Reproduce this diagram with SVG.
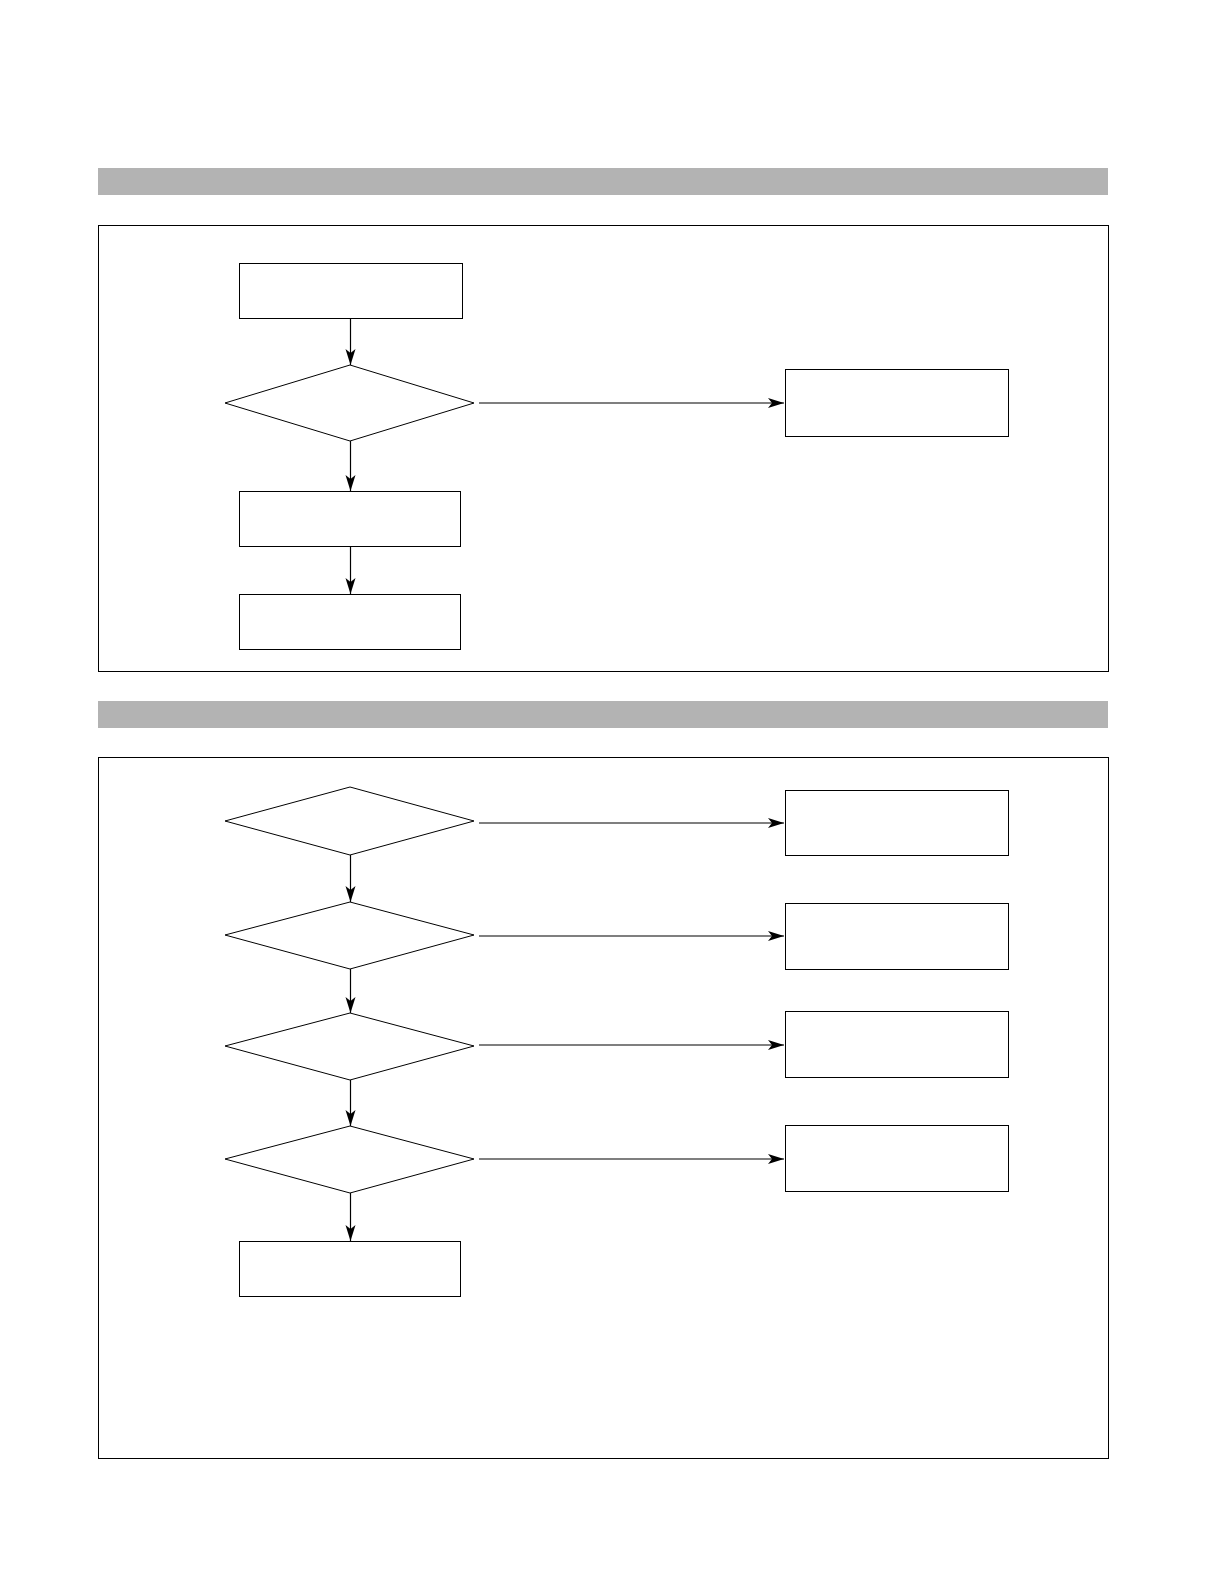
<svg xmlns="http://www.w3.org/2000/svg" width="1224" height="1584" viewBox="0 0 1224 1584">
<style>
.n{fill:#fff;stroke:#000;stroke-width:1}
.b{fill:#b3b3b3}
.f{fill:none;stroke:#000;stroke-width:1}
.c{stroke:#000;stroke-width:1.2;fill:none;marker-end:url(#ah)}
</style>
<defs>
<marker id="ah" markerUnits="userSpaceOnUse" markerWidth="18" markerHeight="12" refX="16" refY="5" orient="auto" viewBox="0 0 18 10">
<path d="M0,0 L16,5 L0,10 L4,5 Z" fill="#000"/>
</marker>
</defs>
<rect width="1224" height="1584" fill="#fff"/>
<rect class="b" x="98" y="168" width="1010" height="27"/>
<rect class="f" x="98.5" y="225.5" width="1010" height="446"/>
<rect class="b" x="98" y="701" width="1010" height="27"/>
<rect class="f" x="98.5" y="757.5" width="1010" height="701"/>
<g id="connectors">
<line class="c" x1="350.5" y1="318" x2="350.5" y2="365"/>
<line class="c" x1="479" y1="403" x2="784" y2="403"/>
<line class="c" x1="350.5" y1="441" x2="350.5" y2="491"/>
<line class="c" x1="350.5" y1="546" x2="350.5" y2="594"/>
<line class="c" x1="479" y1="823" x2="784" y2="823"/>
<line class="c" x1="479" y1="936" x2="784" y2="936"/>
<line class="c" x1="479" y1="1045" x2="784" y2="1045"/>
<line class="c" x1="479" y1="1159" x2="784" y2="1159"/>
<line class="c" x1="350.5" y1="855" x2="350.5" y2="902"/>
<line class="c" x1="350.5" y1="969" x2="350.5" y2="1013"/>
<line class="c" x1="350.5" y1="1080" x2="350.5" y2="1126"/>
<line class="c" x1="350.5" y1="1193" x2="350.5" y2="1241"/>
</g>
<g id="n1"><rect class="n" x="239.5" y="263.5" width="223" height="55"/></g>
<g id="n2"><polygon class="n" points="225,403 350,365 474,403 350,441"/></g>
<g id="n3"><rect class="n" x="785.5" y="369.5" width="223" height="67"/></g>
<g id="n4"><rect class="n" x="239.5" y="491.5" width="221" height="55"/></g>
<g id="n5"><rect class="n" x="239.5" y="594.5" width="221" height="55"/></g>
<g id="d1"><polygon class="n" points="225,821 350,787 474,821 350,855"/></g>
<g id="d2"><polygon class="n" points="225,935 350,902 474,935 350,969"/></g>
<g id="d3"><polygon class="n" points="225,1046 350,1013 474,1046 350,1080"/></g>
<g id="d4"><polygon class="n" points="225,1159 350,1126 474,1159 350,1193"/></g>
<g id="r1"><rect class="n" x="785.5" y="790.5" width="223" height="65"/></g>
<g id="r2"><rect class="n" x="785.5" y="903.5" width="223" height="66"/></g>
<g id="r3"><rect class="n" x="785.5" y="1011.5" width="223" height="66"/></g>
<g id="r4"><rect class="n" x="785.5" y="1125.5" width="223" height="66"/></g>
<g id="n6"><rect class="n" x="239.5" y="1241.5" width="221" height="55"/></g>
</svg>
